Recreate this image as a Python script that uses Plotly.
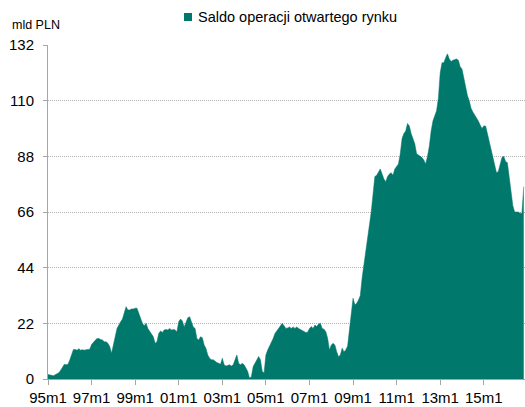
import plotly.graph_objects as go

# Monthly values, mld PLN (1995m1 .. 2016m11)
v1995 = [1.8, 1.6, 1.3, 1.3, 1.7, 2.0, 2.5, 3.5, 4.9, 5.8, 5.6, 5.8]
v1996 = [7.5, 9.5, 11.7, 11.7, 11.4, 12.0, 11.4, 11.6, 11.4, 11.6, 11.6, 11.8]
v1997 = [13.6, 14.7, 15.3, 16.0, 16.0, 15.6, 15.4, 14.7, 14.7, 14.1, 12.8, 10.2]
v1998 = [13.0, 16.7, 20.0, 21.6, 22.6, 23.7, 25.9, 28.6, 27.3, 27.3, 27.7, 27.7]
v1999 = [28.0, 28.0, 26.0, 24.0, 22.0, 21.0, 22.0, 20.0, 18.7, 18.0, 16.7, 14.1]
v2000 = [14.7, 18.0, 19.0, 18.4, 19.4, 19.6, 19.4, 20.0, 19.4, 19.6, 19.4, 18.7]
v2001 = [22.6, 23.7, 22.9, 20.6, 22.6, 24.2, 24.6, 22.6, 20.6, 20.0, 16.0, 15.4]
v2002 = [16.7, 16.3, 13.4, 12.1, 9.5, 8.2, 7.6, 7.6, 6.9, 6.5, 6.2, 5.8]
v2003 = [8.2, 5.6, 5.1, 5.3, 5.6, 5.1, 5.6, 7.6, 9.5, 6.2, 5.6, 6.2]
v2004 = [5.6, 4.3, 3.0, 0.3, 1.0, 4.9, 6.2, 7.6, 8.9, 7.6, 3.0, 2.4]
v2005 = [9.5, 11.5, 13.0, 14.3, 16.0, 18.0, 19.0, 20.5, 21.0, 22.0, 21.0, 20.0]
v2006 = [20.2, 20.6, 20.0, 20.6, 20.0, 20.6, 20.0, 19.6, 19.4, 19.0, 18.4, 18.5]
v2007 = [20.0, 20.7, 20.0, 21.3, 20.7, 21.7, 22.0, 20.0, 19.7, 18.7, 16.1, 11.5]
v2008 = [13.4, 14.1, 13.4, 10.8, 8.8, 9.5, 12.2, 10.8, 11.5, 13.0, 20.0, 26.6]
v2009 = [31.9, 29.3, 29.9, 31.2, 33.0, 40.0, 45.0, 50.0, 55.0, 61.0, 66.0, 73.0]
v2010 = [80.0, 80.5, 82.0, 83.0, 81.0, 79.0, 78.0, 80.0, 81.0, 81.5, 80.5, 83.0]
v2011 = [84.0, 85.0, 89.0, 95.0, 97.0, 98.0, 101.0, 100.0, 97.0, 95.0, 93.0, 89.0]
v2012 = [88.5, 88.0, 87.5, 86.5, 85.0, 88.0, 92.0, 98.0, 102.0, 104.0, 106.0, 111.0]
v2013 = [121.0, 125.0, 125.0, 127.0, 128.5, 126.5, 125.5, 126.0, 126.3, 126.5, 126.0, 123.4]
v2014 = [122.5, 119.0, 115.0, 112.0, 110.0, 107.0, 105.5, 104.5, 103.5, 102.0, 100.4, 99.0]
v2015 = [100.0, 100.0, 97.0, 94.0, 91.0, 88.0, 85.0, 81.5, 82.0, 84.5, 87.5, 88.0]
v2016 = [86.0, 85.5, 80.0, 74.0, 68.5, 66.0, 66.0, 66.0, 65.5, 65.5, 76.0]

values = (v1995 + v1996 + v1997 + v1998 + v1999 + v2000 + v2001 + v2002 + v2003
          + v2004 + v2005 + v2006 + v2007 + v2008 + v2009 + v2010 + v2011 + v2012
          + v2013 + v2014 + v2015 + v2016)

months = [f"{y % 100:02d}m{m}" for y in range(1995, 2017) for m in range(1, 13)][:len(values)]
tick_labels = ["95m1", "97m1", "99m1", "01m1", "03m1", "05m1", "07m1", "09m1", "11m1", "13m1", "15m1"]
y_ticks = [0, 22, 44, 66, 88, 110, 132]

series_name = "Saldo operacji otwartego rynku"
unit_label = "mld PLN"
TEAL = "#00786B"
FONT = "Liberation Sans, Arial, sans-serif"

fig = go.Figure()
fig.add_trace(go.Scatter(
    x=months, y=values, mode="lines", fill="tozeroy",
    line=dict(color=TEAL, width=0.5), fillcolor=TEAL,
    name=series_name, showlegend=False, hoverinfo="x+y",
))

fig.update_layout(
    width=525, height=407,
    margin=dict(l=48, r=0, t=45, b=28),
    paper_bgcolor="white", plot_bgcolor="white",
    font=dict(family=FONT, size=15, color="#000000"),
    showlegend=False,
)
fig.update_xaxes(
    type="category", categoryorder="array", categoryarray=months,
    range=[0, len(values) - 0.3],
    tickmode="array", tickvals=tick_labels, ticktext=tick_labels,
    showgrid=False, showline=True, linecolor="#A6A6A6", linewidth=1,
    ticks="outside", ticklen=5, tickcolor="#A6A6A6",
    tickfont=dict(size=15), zeroline=False, automargin=False,
)
fig.update_yaxes(
    range=[0, 132], tickmode="array", tickvals=y_ticks,
    showgrid=True, gridcolor="#B0B0B0", griddash="1px,1px", gridwidth=1,
    showline=True, linecolor="#A6A6A6", linewidth=1,
    ticks="outside", ticklen=4, tickcolor="#A6A6A6",
    tickfont=dict(size=15), ticklabelstandoff=6, zeroline=False, automargin=False,
)

# legend (swatch + text) and unit label
fig.add_shape(type="rect", xref="paper", yref="paper",
              x0=(184 - 48) / 477, x1=(192 - 48) / 477,
              y0=(379 - 21) / 334, y1=(379 - 13) / 334,
              fillcolor=TEAL, line=dict(width=0))
fig.add_annotation(text=series_name, xref="paper", yref="paper",
                   x=(196 - 48) / 477, y=(379 - 17) / 334,
                   xanchor="left", yanchor="middle", showarrow=False,
                   font=dict(size=14.5, family=FONT, color="#000000"))
fig.add_annotation(text=unit_label, xref="paper", yref="paper",
                   x=(10 - 48) / 477, y=(379 - 25) / 334,
                   xanchor="left", yanchor="middle", showarrow=False,
                   font=dict(size=12.5, family=FONT, color="#000000"))

fig.write_html("out.html", config={"displayModeBar": False},
               post_script="document.body.style.margin='0';document.body.style.overflow='hidden';")
